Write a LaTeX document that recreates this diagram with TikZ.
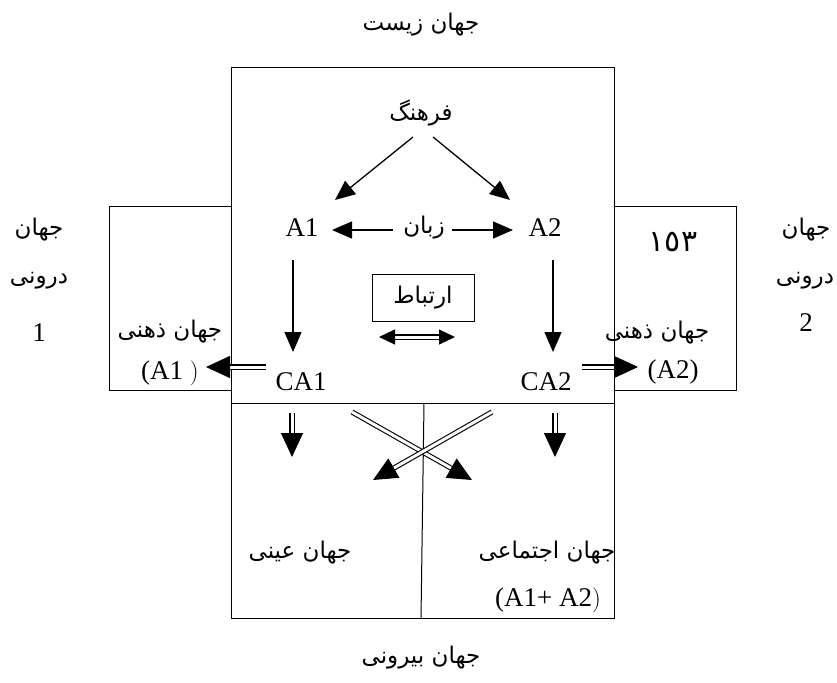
\documentclass[tikz,border=0pt]{standalone}
\usepackage{fontspec}
\setmainfont[Script=Latin]{Liberation Serif}
\newfontfamily\arabicfont[Script=Arabic]{DejaVu Sans}
\TeXXeTstate=1
\usetikzlibrary{arrows.meta}
\newcommand{\fa}[1]{\beginR #1\endR}
\begin{document}
\begin{tikzpicture}[x=1pt,y=-1pt,
  lat/.style={font=\fontsize{27}{30}\selectfont, inner sep=0pt},
  per/.style={font=\fontsize{23}{28}\selectfont\arabicfont, inner sep=0pt},
  ar/.style={line width=1.3pt, -{Triangle[length=20pt,width=17pt]}},
  dar/.style={double, line width=1.1pt, double distance=3pt, -{Triangle[length=24pt,width=22pt]}},
  sdar/.style={double, line width=1.1pt, double distance=3pt, {Triangle[length=16pt,width=15pt]}-{Triangle[length=16pt,width=15pt]}},
  frame/.style={line width=1pt}]
\useasboundingbox (0,0) rectangle (837,682);
% frames
\draw[frame] (231,68) rectangle (614,618);
\draw[frame] (109,206) rectangle (231,390);
\draw[frame] (614,206) rectangle (736,390);
\draw[frame] (231,403) -- (614,403);
\draw[frame] (424,403) -- (421,618);
% texts
\node[per] (top) at (421,25) {\fa{جهان زیست}};
\node[per] (farhang) at (421,113) {\fa{فرهنگ}};
\node[lat] (A1) at (302,228) {A1};
\node[lat] (A2) at (545,228) {A2};
\node[per] (zaban) at (424,228) {\fa{زبان}};
\node[lat] (CA1) at (301,382) {CA1};
\node[lat] (CA2) at (546,382) {CA2};
\node[per, draw, line width=1pt, minimum width=102pt, minimum height=47pt] (ertebat) at (423,298) {\fa{ارتباط}};
\node[per] (zl) at (170,332) {\fa{جهان ذهنی}};
\node[lat] (zlA) at (170,373) {(A1 $)$};
\node[per, font=\fontsize{30}{34}\selectfont\arabicfont] (num) at (673,242) {١٥٣};
\node[per] (zr) at (657,333) {\fa{جهان ذهنی}};
\node[lat] (zrA) at (673,372) {(A2)};
\node[per] (l1) at (39,230) {\fa{جهان}};
\node[per] (l2) at (39,281) {\fa{درونی}};
\node[lat] (l3) at (39,333) {1};
\node[per] (r1) at (806,230) {\fa{جهان}};
\node[per] (r2) at (805,281) {\fa{درونی}};
\node[lat] (r3) at (806,323) {2};
\node[per] (eyni) at (300,553) {\fa{جهان عینی}};
\node[per] (ejt) at (547,553) {\fa{جهان اجتماعی}};
\node[lat] (ejtA) at (548,600) {(A1+ A2$)$};
\node[per] (birun) at (421,658) {\fa{جهان بیرونی}};
% arrow end points
\coordinate (f1) at (413,137); \coordinate (t1) at (335,200);
\coordinate (f2) at (433,137); \coordinate (t2) at (510,200);
\coordinate (z1) at (393,230); \coordinate (z1t) at (332,230);
\coordinate (z2) at (452,230); \coordinate (z2t) at (513,230);
\coordinate (a1s) at (293,260); \coordinate (a1t) at (293,352);
\coordinate (a2s) at (553,260); \coordinate (a2t) at (553,352);
\coordinate (e1) at (379,337); \coordinate (e2) at (455,337);
\coordinate (c1s) at (266,367); \coordinate (c1t) at (206,367);
\coordinate (c2s) at (582,367); \coordinate (c2t) at (638,367);
\coordinate (d1s) at (292,413); \coordinate (d1t) at (292,457);
\coordinate (d2s) at (555,413); \coordinate (d2t) at (555,457);
\coordinate (x1s) at (352,412); \coordinate (x1t) at (472,480);
\coordinate (x2s) at (492,412); \coordinate (x2t) at (373,480);
% arrows
\draw[ar] (f1) -- (t1);
\draw[ar] (f2) -- (t2);
\draw[ar] (z1) -- (z1t);
\draw[ar] (z2) -- (z2t);
\draw[ar] (a1s) -- (a1t);
\draw[ar] (a2s) -- (a2t);
\draw[sdar] (e1) -- (e2);
\draw[dar] (c1s) -- (c1t);
\draw[dar] (c2s) -- (c2t);
\draw[dar] (d1s) -- (d1t);
\draw[dar] (d2s) -- (d2t);
\draw[dar] (x1s) -- (x1t);
\draw[dar] (x2s) -- (x2t);
\end{tikzpicture}
\end{document}
